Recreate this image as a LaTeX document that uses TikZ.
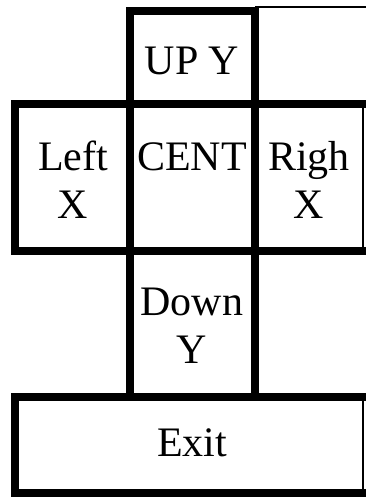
\documentclass[tikz,border=0pt]{standalone}
\usepackage{fontspec}
\setmainfont{Liberation Serif}
\begin{document}
\begin{tikzpicture}[x=1pt,y=-1pt,
  thick line/.style={line width=8pt,line cap=rect},
  thin line/.style={line width=2.5pt},
  cell/.style={align=center,inner sep=0pt,font=\fontsize{42}{48}\selectfont}]
\useasboundingbox (0,0) rectangle (366,497);
% outlines
\draw[thick line] (130,11) -- (130,395);
\draw[thick line] (255,11) -- (255,395);
\draw[thick line] (130,11) -- (255,11);
\draw[thin line] (255,7) -- (366,7);
\draw[thick line] (15,104) -- (366,104);
\draw[thick line] (15,251) -- (366,251);
\draw[thick line] (15,104) -- (15,251);
\draw[thin line] (363,104) -- (363,251);
\draw[thick line] (15,397) -- (366,397);
\draw[thick line] (15,493) -- (366,493);
\draw[thick line] (15,397) -- (15,493);
\draw[thin line] (363,397) -- (363,493);
% labels
\node[cell,anchor=base] (up) at (192,75) {UP Y};
\node[cell,anchor=base] (left) at (73,170) {Left};
\node[cell,anchor=base] (leftx) at (73,218) {X};
\node[cell,anchor=base] (cent) at (192,170) {CENT};
\node[cell,anchor=base] (righ) at (309,170) {Righ};
\node[cell,anchor=base] (righx) at (309,218) {X};
\node[cell,anchor=base] (down) at (192,315) {Down};
\node[cell,anchor=base] (downy) at (192,363) {Y};
\node[cell,anchor=base] (exit) at (192,456) {Exit};
\end{tikzpicture}
\end{document}
